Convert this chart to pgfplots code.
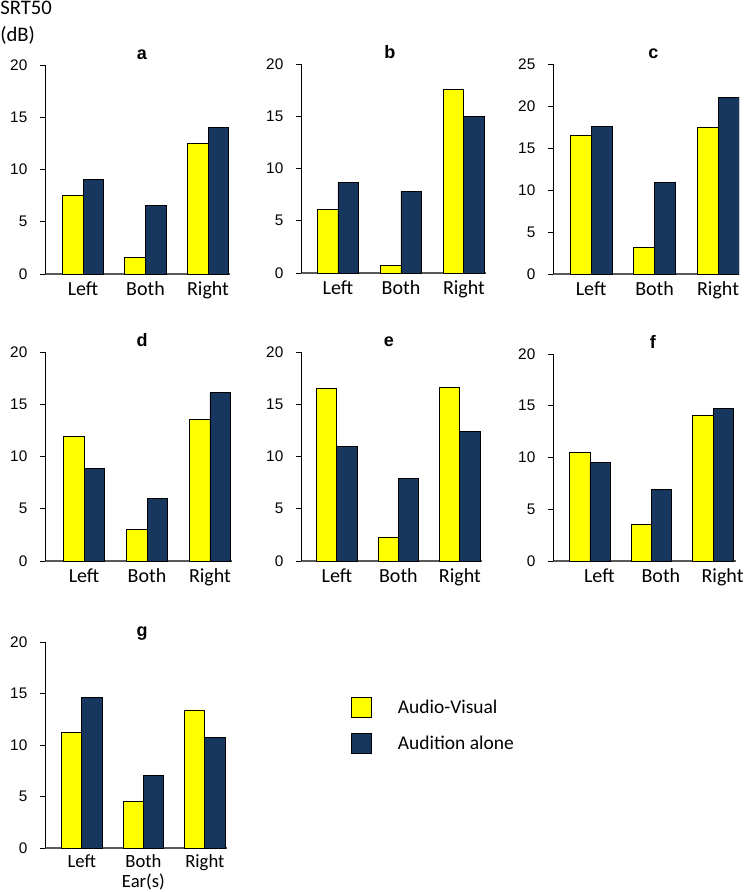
\documentclass[border=0pt]{standalone}
\usepackage{pgfplots}
\pgfplotsset{compat=1.18}
\usepackage{fontspec}
\setmainfont{Carlito}
\newfontfamily\arial{Liberation Sans}
\definecolor{avyellow}{RGB}{255,255,0}
\definecolor{aanavy}{RGB}{23,55,94}

\pgfplotsset{
  panel/.style={
    scale only axis, anchor=south west,
    ybar=0pt, bar width=0.33,
    ymin=0, ymax=20, ytick={0,5,...,20},
    enlarge y limits=false, enlarge x limits=false,
    axis x line=bottom, axis y line=left, axis line style={-},
    x axis line style={draw=black!65, line width=0.9pt},
    y axis line style={draw=black, line width=0.6pt},
    xtick={0,1,2}, xticklabels={Left,Both,Right},
    xtick style={draw=none},
    ytick style={draw=black, line width=0.6pt},
    tick align=outside, major tick length=3.75pt,
    /pgf/number format/assume math mode=true,
    yticklabel style={font=\arial\fontsize{11.5}{13}\selectfont, xshift=-6pt},
    xticklabel style={font=\fontsize{15}{17}\selectfont, inner sep=2pt},
    title style={font=\arial\bfseries\fontsize{13.5}{15}\selectfont, anchor=base, yshift=-1.5pt},
    every axis plot/.append style={draw=black, line width=0.7pt},
  }
}

\begin{document}
\begin{tikzpicture}
\useasboundingbox (0pt,0pt) rectangle (558.75pt,-669pt);

\node[anchor=west, inner sep=0pt, font=\fontsize{15.5}{17}\selectfont] at (0pt,-6pt) {SRT50};
\node[anchor=west, inner sep=0pt, font=\fontsize{15.5}{17}\selectfont] at (0pt,-26.25pt) {(dB)};

% a
\begin{axis}[panel, at={(33.75pt,-205.5pt)}, width=138.75pt, height=156.75pt,
  xmin=-0.608, xmax=2.352, title={a}, title style={at={(0.524,1)}}]
\addplot[fill=avyellow] coordinates {(0,7.5) (1,1.6) (2,12.5)};
\addplot[fill=aanavy] coordinates {(0,9.0) (1,6.6) (2,14.0)};
\end{axis}

% b
\begin{axis}[panel, at={(225.75pt,-204.75pt)}, width=138.75pt, height=156.75pt,
  xmin=-0.587, xmax=2.35, title={b}, title style={at={(0.48,1)}}]
\addplot[fill=avyellow] coordinates {(0,6.1) (1,0.7) (2,17.6)};
\addplot[fill=aanavy] coordinates {(0,8.7) (1,7.8) (2,15.0)};
\end{axis}

% c
\begin{axis}[panel, at={(414.75pt,-205.5pt)}, width=139.5pt, height=157.5pt,
  xmin=-0.6, xmax=2.33, ymax=25, ytick={0,5,...,25}, title={c}, title style={at={(0.54,1)}}]
\addplot[fill=avyellow] coordinates {(0,16.5) (1,3.2) (2,17.4)};
\addplot[fill=aanavy] coordinates {(0,17.6) (1,10.9) (2,21.0)};
\end{axis}

% d
\begin{axis}[panel, at={(33.75pt,-420.75pt)}, width=140.25pt, height=156.75pt,
  xmin=-0.62, xmax=2.35, title={d}, title style={at={(0.52,1)}}]
\addplot[fill=avyellow] coordinates {(0,11.9) (1,3.0) (2,13.5)};
\addplot[fill=aanavy] coordinates {(0,8.9) (1,6.0) (2,16.1)};
\end{axis}

% e
\begin{axis}[panel, at={(225.75pt,-420.75pt)}, width=135.75pt, height=156.75pt,
  xmin=-0.585, xmax=2.36, title={e}, title style={at={(0.486,1)}}]
\addplot[fill=avyellow] coordinates {(0,16.5) (1,2.3) (2,16.6)};
\addplot[fill=aanavy] coordinates {(0,11.0) (1,7.9) (2,12.4)};
\end{axis}

% f
\begin{axis}[panel, at={(414.75pt,-420.75pt)}, width=137.25pt, height=155.25pt,
  xmin=-0.6, xmax=2.37, title={f}, title style={at={(0.546,1)}},
  xticklabel style={xshift=7pt}]
\addplot[fill=avyellow] coordinates {(0,10.5) (1,3.5) (2,14.1)};
\addplot[fill=aanavy] coordinates {(0,9.5) (1,6.9) (2,14.7)};
\end{axis}

% g
\begin{axis}[panel, at={(33.75pt,-636pt)}, width=136.5pt, height=154.5pt,
  xmin=-0.6, xmax=2.36, title={g}, title style={at={(0.533,1)}},
  xticklabels={Left,{Both\\Ear(s)},Right},
  xticklabel style={align=center, font=\fontsize{14}{15}\selectfont, inner sep=1pt},
  legend image code/.code={\draw[#1] (0pt,-3pt) rectangle (15pt,12pt);},
  legend cell align=left,
  legend style={draw=none, fill=none, at={(1.681,0.733)}, anchor=north west,
    inner sep=0pt, outer sep=0pt, font=\fontsize{14.6}{16}\selectfont,
    row sep=11.25pt, nodes={inner sep=0pt, anchor=base west},
    /tikz/every odd column/.append style={column sep=19.5pt}}]
\addplot[fill=avyellow] coordinates {(0,11.2) (1,4.5) (2,13.4)};
\addplot[fill=aanavy] coordinates {(0,14.6) (1,7.0) (2,10.7)};
\legend{Audio-Visual,Audition alone}
\end{axis}
\end{tikzpicture}
\end{document}
